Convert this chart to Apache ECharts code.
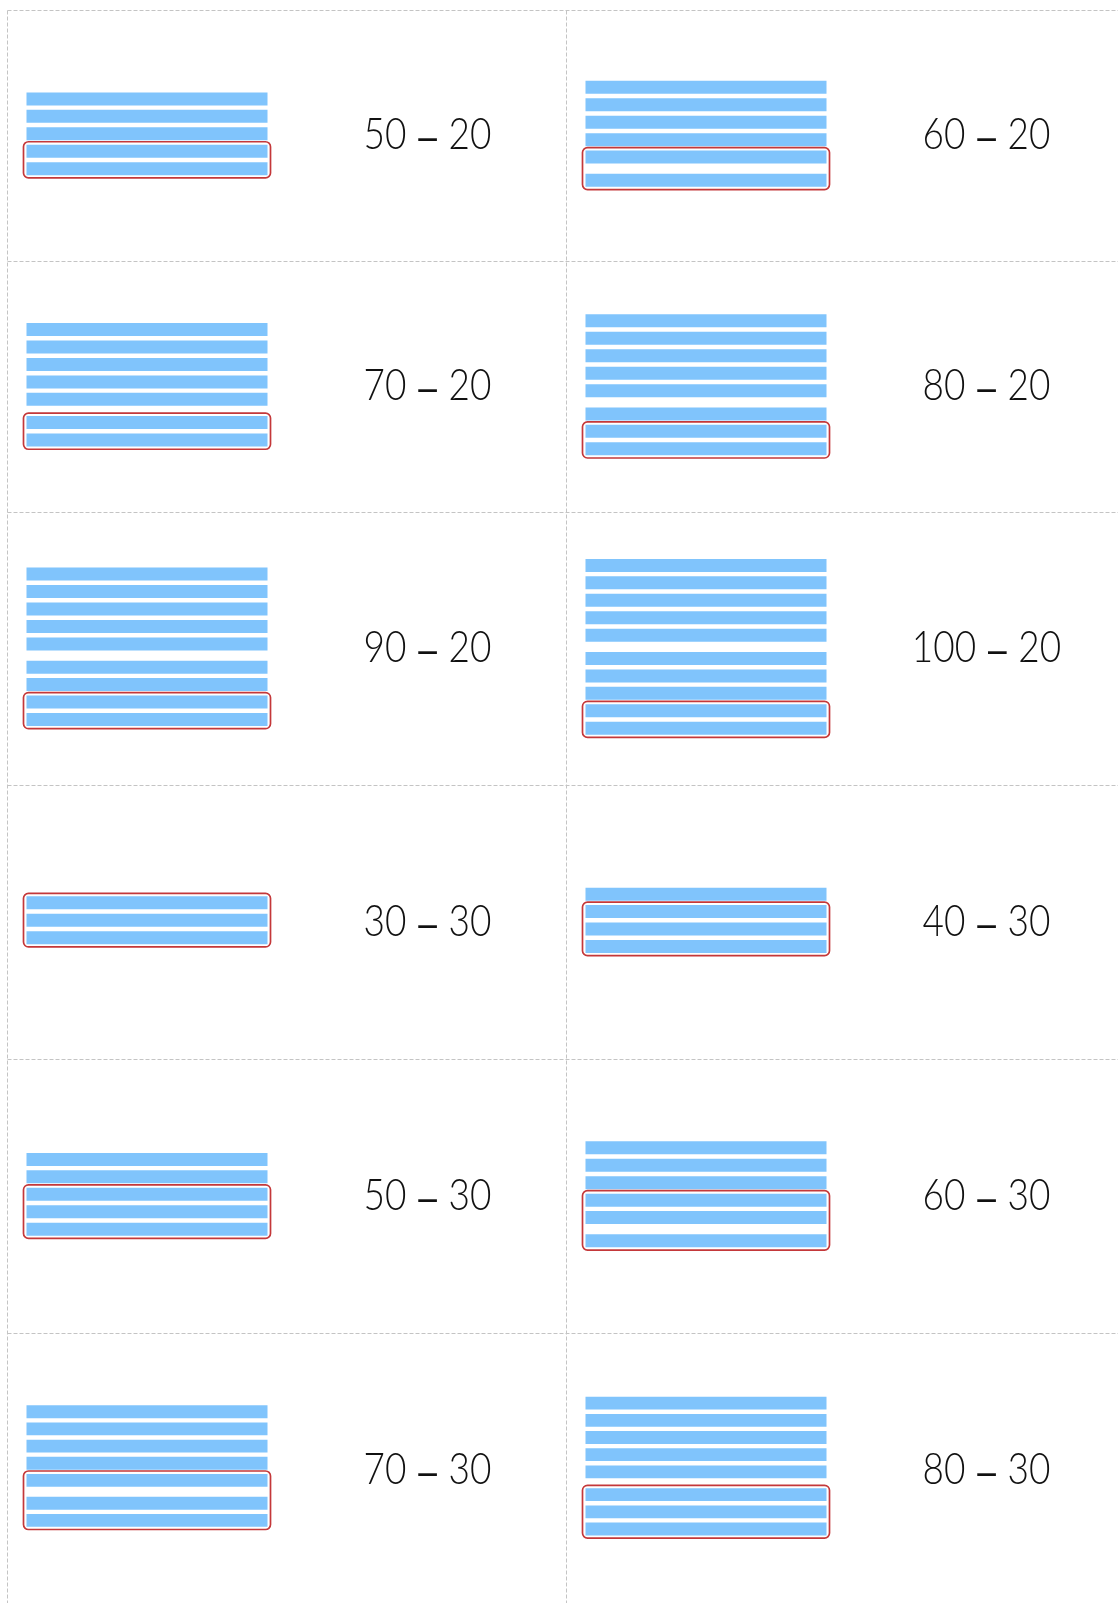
<!DOCTYPE html>
<html><head><meta charset="utf-8">
<script src="https://cdn.jsdelivr.net/npm/echarts@6/dist/echarts.min.js"></script>
<style>html,body{margin:0;padding:0;background:#fff}#c{width:1118px;height:1603px}</style>
</head><body><div id="c"></div>
<script>
// ---- data ----
const minuends    = [50, 60, 70, 80, 90, 100, 30, 40, 50, 60, 70, 80];
const subtrahends = [20, 20, 20, 20, 20, 20, 30, 30, 30, 30, 30, 30];
const rodValue = 10;

// ---- layout ----
const colX = [7.5, 566.5];
const rowY = [10.5, 261.5, 512.5, 785.5, 1059.5, 1333.5, 1607.5];
const PITCH = 17.45, BAR_H = 13, GROUP_GAP = 5.8;
const hU = BAR_H / PITCH, gU = GROUP_GAP / PITCH;
const slot = j => j + Math.floor(j / 5) * gU;

const chart = echarts.init(document.getElementById('c'), null, {renderer: 'canvas'});
const grids = [], xAxes = [], yAxes = [], series = [], graphics = [];

// dashed card lines
const dash = {stroke: '#c4c4c4', lineWidth: 1, lineDash: [4, 2]};
rowY.slice(0, 6).forEach(y => graphics.push({type: 'line', shape: {x1: colX[0], y1: y, x2: 1118, y2: y}, style: dash, silent: true}));
colX.forEach(x => graphics.push({type: 'line', shape: {x1: x, y1: rowY[0], x2: x, y2: 1603}, style: dash, silent: true}));

const numFont = '300 44px Lato, "Liberation Sans", sans-serif';
minuends.forEach((m, i) => {
  const s = subtrahends[i];
  const col = i % 2, row = Math.floor(i / 2);
  const top = rowY[row], H = rowY[row + 1] - rowY[row];
  const n = m / rodValue, k = s / rodValue;
  const c = (slot(n - 1) + hU) / 2;
  const yMin = c - (H / 2 - 2.2) / PITCH;
  grids.push({left: colX[col] + 19, top: top, width: 241, height: H});
  xAxes.push({gridIndex: i, type: 'value', min: 0, max: rodValue, show: false});
  yAxes.push({gridIndex: i, type: 'value', inverse: true, min: yMin, max: yMin + H / PITCH, show: false});
  series.push({
    type: 'custom', xAxisIndex: i, yAxisIndex: i, silent: true,
    data: Array.from({length: n}, (_, j) => [rodValue, j]),
    renderItem: (params, api) => {
      const j = api.value(1);
      const p0 = api.coord([0, slot(j)]);
      const p1 = api.coord([api.value(0), slot(j) + hU]);
      return {type: 'rect', shape: {x: p0[0], y: p0[1], width: p1[0] - p0[0], height: p1[1] - p0[1]},
              style: {fill: '#80c4fc'}};
    }
  });
  series.push({
    type: 'custom', xAxisIndex: i, yAxisIndex: i, silent: true, z: 3,
    data: [[n - k, n - 1]],
    renderItem: (params, api) => {
      const a = api.coord([0, slot(api.value(0))]);
      const b = api.coord([rodValue, slot(api.value(1)) + hU]);
      return {type: 'rect', shape: {x: a[0] - 3, y: a[1] - 3, width: b[0] - a[0] + 6, height: b[1] - a[1] + 5.7, r: 5},
              style: {fill: 'none', stroke: '#c4383a', lineWidth: 1.7}};
    }
  });
  graphics.push({type: 'text', x: colX[col] + 420, y: top + H / 2 - 1, scaleX: 0.84, silent: true,
    style: {text: '{n|' + m + '} {d|–} {n|' + s + '}', fill: '#111', font: numFont,
            align: 'center', verticalAlign: 'middle',
            rich: {n: {font: numFont, fill: '#111'},
                   d: {font: '40px "Liberation Sans", sans-serif', fill: '#111', padding: [8, 2, 0, 2]}}}});
});

chart.setOption({animation: false, backgroundColor: '#fff', grid: grids, xAxis: xAxes, yAxis: yAxes, series: series, graphic: graphics});
</script></body></html>
